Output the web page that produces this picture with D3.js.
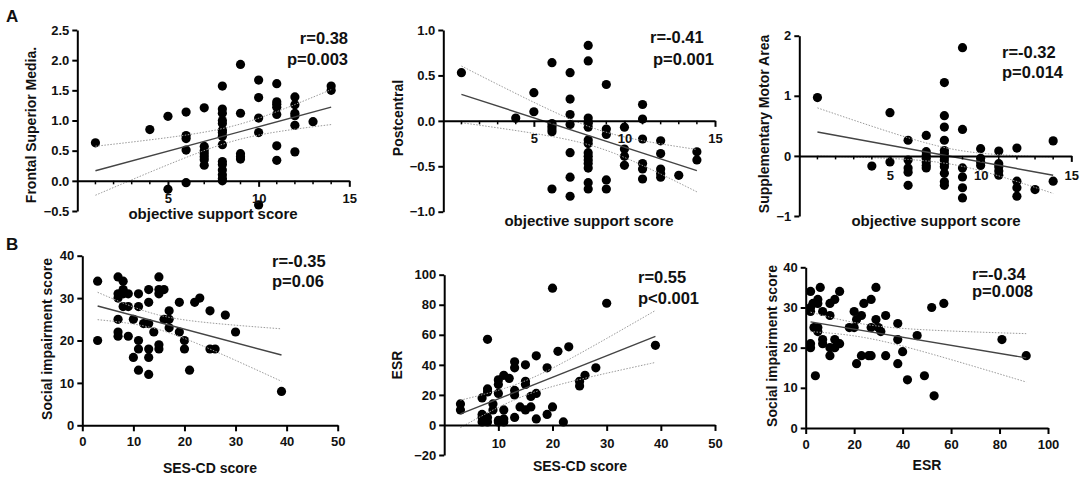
<!DOCTYPE html>
<html><head><meta charset="utf-8">
<script src="https://cdn.jsdelivr.net/npm/d3@7"></script>
<style>
body{margin:0;background:#fff}
text{font-family:"Liberation Sans",Arial,sans-serif;font-weight:bold;fill:#111}
</style>
</head><body>
<svg id="c" width="1084" height="477"></svg>
<script>
// ---------- DATA ----------
const a1X = [1,4,5,5,6,6,6,6,6,7,7,7,7,7,7,7,8,8,8,8,8,8,8,8,8,8,8,8,8,8,8,9,9,9,9,9,10,10,10,10,10,11,11,11,11,11,11,11,12,12,12,12,12,12,13,14,14];
const a1Y = [0.63,0.85,1.07,-0.14,1.14,0.75,0.70,0.51,-0.03,1.21,0.57,0.50,0.45,0.40,0.35,0.26,1.57,1.19,1.12,1.00,0.95,0.84,0.80,0.74,0.60,0.32,0.27,0.18,0.10,0.04,0.00,1.93,1.12,0.45,0.40,0.36,1.67,1.38,1.04,0.80,-0.40,1.61,1.31,1.27,1.22,1.10,0.58,0.34,1.39,1.26,1.12,1.08,0.92,0.48,0.98,1.57,1.50];

const a2X = [1,4,5,5,6,6,6,6,6,6,7,7,7,7,7,7,7,8,8,8,8,8,8,8,8,8,8,8,8,8,8,8,9,9,9,9,9,10,10,10,10,11,11,11,11,11,11,12,12,12,12,12,13,14,14];
const a2Y = [0.53,0.03,0.31,0.10,0.64,-0.03,-0.06,-0.09,-0.12,-0.75,0.53,0.24,0.07,-0.04,-0.35,-0.62,-0.83,0.83,0.66,0.03,-0.01,-0.03,-0.07,-0.21,-0.25,-0.35,-0.39,-0.43,-0.47,-0.52,-0.68,-0.75,0.40,-0.09,-0.15,-0.65,-0.75,-0.07,-0.31,-0.39,-0.49,0.18,0.02,-0.20,-0.47,-0.53,-0.64,-0.22,-0.36,-0.53,-0.58,-0.62,-0.60,-0.34,-0.43];

const a3X = [1,4,5,5,6,6,6,6,6,7,7,7,7,7,7,7,8,8,8,8,8,8,8,8,8,8,8,8,8,9,9,9,9,9,9,10,10,10,10,11,11,11,11,11,12,12,12,12,13,14,14];
const a3Y = [0.97,-0.17,0.72,-0.10,0.26,-0.07,-0.20,-0.27,-0.49,0.34,0.07,0.01,-0.04,-0.10,-0.16,-0.20,1.22,0.67,0.48,0.26,0.09,0.04,-0.02,-0.07,-0.13,-0.18,-0.29,-0.43,-0.49,1.80,0.44,-0.20,-0.35,-0.53,-0.70,0.12,-0.04,-0.10,-0.16,0.08,-0.13,-0.18,-0.25,-0.32,0.13,-0.42,-0.53,-0.67,-0.56,0.25,-0.42];

const b1X = [3,3,7,7,7,7,7,7,8,8,8,8,9,9,9,10,10,11,11,11,11,11,12,13,13,13,13,13,13,14,15,15,15,15,15,16,16,17,17,17,19,19,20,20,21,22,23,25,25,26,28,30,39];
const b1Y = [34,20,35,31,30,25,22,21,34,32,31,28,31,28,21,25,16,31,28,20,18,13,24,32,29,24,18,16,12,22,35,32,31,19,18,32,25,27,25,23,29,22,20,18,13,29,30,27,18,18,26,22,8];

const b2X = [3,3,7,7,7,7,8,8,8,8,8,9,9,10,10,10,10,10,11,11,11,11,12,13,13,13,13,13,14,15,15,15,15,16,16,17,17,17,19,19,20,20,21,22,23,25,25,26,28,30,39];
const b2Y = [14,10,18,7,5,2,57,24,22,5,2,14,10,30,27,21,3,2,33,10,4,2,31,42,38,23,20,5,12,40,29,27,10,19,12,46,21,4,38,7,91,12,49,2,52,29,26,33,38,81,53];

const b3X = [2,2,2,2,2,3,3.4,4,5,5,5,5,6,7,7,7,10,10,10,10,12,12,12,14,14,18,20,20,21,21,23,23,24,26,27,27,27,29,29,30,31,33,33,38,38,38,40,42,46,49,52,53,57,81,91];
const b3Y = [34,30,29,21,20,31,25,13,32,31,25,24,35,29,22,21,31,28,20,18,32,22,20,34,21,25,25,29,27,16,28,18,31,18,18,32,25,35,27,25,24,28,18,26,22,16,19,12,23,13,30,8,31,22,18];

const stats = [["r=0.38","p=0.003"],["r=-0.41","p=0.001"],["r=-0.32","p=0.014"],["r=-0.35","p=0.06"],["r=0.55","p<0.001"],["r=-0.34","p=0.008"]];
const xTitles = ["objective support score","objective support score","objective support score","SES-CD score","SES-CD score","ESR"];
const yTitles = ["Frontal Superior Media.","Postcentral","Supplementary Motor Area","Social impairment score","ESR","Social impairment score"];
const a1YTicks = [-0.5,0,0.5,1,1.5,2,2.5];
const a2YTicks = [-1,-0.5,0,0.5,1];
const a3YTicks = [-1,0,1,2];
const aXTicks = [5,10,15];
const b1YTicks = [0,10,20,30,40];
const b2YTicks = [-20,0,20,40,60,80,100];
const bXTicks = [0,10,20,30,40,50];
const b3XTicks = [0,20,40,60,80,100];

// ---------- LAYOUT ----------
const panels = [
 {xs:a1X, ys:a1Y, xd:[0,15], yd:[-0.5,2.5], xr:[77.3,349.3], yr:[211,30], xt:aXTicks, yt:a1YTicks, yf:".1f", minor:true, xpad:6.5,
  xtp:[213,218.5], ytp:[36,125], ann:[348,44,65], anchor:"end", xts:15},
 {xs:a2X, ys:a2Y, xd:[0,15], yd:[-1,1], xr:[443.3,715], yr:[211.7,30], xt:aXTicks, yt:a2YTicks, yf:".1f", minor:true, xpad:6.7,
  xtp:[589,226], ytp:[403,118], ann:[650,43,65], anchor:"start", pdx:3, xts:15},
 {xs:a3X, ys:a3Y, xd:[0,15], yd:[-1,2], xr:[799.3,1071.3], yr:[216,35.7], xt:aXTicks, yt:a3YTicks, yf:"d", minor:true, xpad:8.7,
  xtp:[936,226], ytp:[769,124], ann:[1002,58,78], anchor:"start", xts:15},
 {xs:b1X, ys:b1Y, xd:[0,50], yd:[0,40], xr:[82.3,337.7], yr:[425.3,255.7], xt:bXTicks, yt:b1YTicks, yf:"d", minor:false, xpad:5.4,
  xtp:[210,473], ytp:[52,339], ann:[272,267,287], anchor:"start", xts:14},
 {xs:b2X, ys:b2Y, xd:[0,50], yd:[-20,100], xr:[444.2,715], yr:[455,274.7], xt:bXTicks.slice(1), yt:b2YTicks, yf:"d", minor:false, xpad:7.4,
  xtp:[580,471], ytp:[402,365], ann:[638,283,304], anchor:"start", xts:14},
 {xs:b3X, ys:b3Y, xd:[0,100], yd:[0,40], xr:[805.7,1048], yr:[428,267.3], xt:b3XTicks, yt:b1YTicks, yf:"d", minor:false, xpad:6,
  xtp:[927,470], ytp:[777,346], ann:[972,280,297], anchor:"start", xts:14}
];

const svg = d3.select("#c");
svg.append("text").attr("x",6).attr("y",22).attr("font-size",17).text("A");
svg.append("text").attr("x",6).attr("y",250).attr("font-size",17).text("B");

panels.forEach((p,i)=>{
  const g = svg.append("g");
  const x = d3.scaleLinear().domain(p.xd).range(p.xr);
  const y = d3.scaleLinear().domain(p.yd).range(p.yr);
  const y0 = p.yd[0] < 0 ? y(0) : y(p.yd[0]);

  // regression + 95% CI
  const n = p.xs.length;
  const mx = d3.mean(p.xs), my = d3.mean(p.ys);
  let sxx=0, sxy=0;
  p.xs.forEach((v,k)=>{sxx+=(v-mx)*(v-mx); sxy+=(v-mx)*(p.ys[k]-my);});
  const b = sxy/sxx, a = my - b*mx;
  let sse=0; p.xs.forEach((v,k)=>{const r=p.ys[k]-(a+b*v); sse+=r*r;});
  const s = Math.sqrt(sse/(n-2)), t = 2.0;
  const [xmin,xmax] = d3.extent(p.xs);
  const grid = d3.range(0,41).map(k=>xmin+(xmax-xmin)*k/40);
  const band = sign => grid.map(v=>[v, a+b*v + sign*t*s*Math.sqrt(1/n + (v-mx)*(v-mx)/sxx)]);
  const line = d3.line().x(d=>x(d[0])).y(d=>y(d[1]));

  // points
  g.selectAll("circle").data(p.xs.map((v,k)=>[v,p.ys[k]])).join("circle")
    .attr("cx",d=>x(d[0])).attr("cy",d=>y(d[1])).attr("r",4.6).attr("fill","#000");

  [1,-1].forEach(sg=>g.append("path").attr("d",line(band(sg))).attr("fill","none")
    .attr("stroke","#9a9a9a").attr("stroke-width",1).attr("stroke-dasharray","1.5,1.5"));
  g.append("path").attr("d",line([[xmin,a+b*xmin],[xmax,a+b*xmax]])).attr("fill","none")
    .attr("stroke","#444").attr("stroke-width",1.4);

  // axes
  const ya = g.append("g").attr("transform",`translate(${x(p.xd[0])},0)`)
    .call(d3.axisLeft(y).tickValues(p.yt).tickFormat(d3.format(p.yf)).tickSize(5).tickPadding(3).tickSizeOuter(0));
  const xa = g.append("g").attr("transform",`translate(0,${y0})`)
    .call(d3.axisBottom(x).tickValues(p.xt).tickFormat(d3.format("d")).tickSize(6).tickPadding(p.xpad).tickSizeOuter(0));
  if(p.minor){
    const mt = d3.range(p.xd[0]+1,p.xd[1]).filter(v=>!p.xt.includes(v));
    xa.selectAll(".mt").data(mt).join("line").attr("x1",d=>x(d)).attr("x2",d=>x(d))
      .attr("y1",0).attr("y2",3.5).attr("stroke","#000").attr("stroke-width",1.5);
  }
  [ya,xa].forEach(ax=>{
    ax.select(".domain").attr("stroke","#000").attr("stroke-width",2);
    ax.selectAll(".tick line").attr("stroke","#000").attr("stroke-width",2);
    ax.selectAll("text").attr("font-size",13).attr("fill","#111")
      .style("font-family","'Liberation Sans',Arial,sans-serif").style("font-weight","bold");
  });

  // titles
  g.append("text").attr("x",p.xtp[0]).attr("y",p.xtp[1]).attr("text-anchor","middle")
    .attr("font-size",p.xts).text(xTitles[i]);
  g.append("text").attr("transform",`translate(${p.ytp[0]},${p.ytp[1]}) rotate(-90)`)
    .attr("text-anchor","middle").attr("font-size",14).text(yTitles[i]);

  // stats
  g.append("text").attr("x",p.ann[0]).attr("y",p.ann[1]).attr("text-anchor",p.anchor)
    .attr("font-size",16.5).text(stats[i][0]);
  g.append("text").attr("x",p.ann[0]+(p.pdx||0)).attr("y",p.ann[2]).attr("text-anchor",p.anchor)
    .attr("font-size",16.5).text(stats[i][1]);
});
</script>
</body></html>
